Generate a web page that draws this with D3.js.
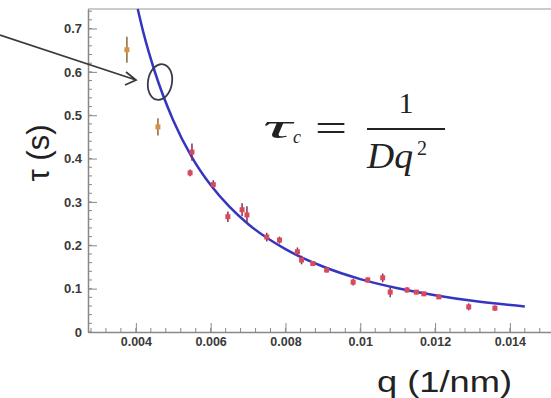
<!DOCTYPE html>
<html>
<head>
<meta charset="utf-8">
<script src="https://cdn.jsdelivr.net/npm/d3@7"></script>
<style>
    body { margin: 0; background: #fff; }
    .tick text { font-family: "Liberation Sans", Arial, sans-serif; font-weight: bold; fill: #3a3a3a; }
</style>
</head>
<body>
<div id="chart"></div>
<script>
// measured points (q in 1/nm, tau in s)
let qPts = [0.00376, 0.00459, 0.00550, 0.00545, 0.00607, 0.00646, 0.00684, 0.00697, 0.00750, 0.00784,
    0.00832, 0.00843, 0.00873, 0.00910, 0.00981, 0.0102, 0.0106, 0.0108, 0.01125, 0.0115, 0.0117, 0.0121, 0.0129, 0.0136];
let tauPts = [0.651, 0.473, 0.415, 0.367, 0.340, 0.266, 0.282, 0.270, 0.219, 0.212,
    0.185, 0.166, 0.158, 0.143, 0.115, 0.120, 0.125, 0.092, 0.097, 0.092, 0.088, 0.081, 0.058, 0.055];
let tauErr = [0.030, 0.020, 0.020, 0.008, 0.010, 0.012, 0.015, 0.020, 0.010, 0.008,
    0.010, 0.010, 0.006, 0.006, 0.008, 0.006, 0.010, 0.012, 0.006, 0.005, 0.005, 0.005, 0.008, 0.006];

// fitted curve tau_c = 1/(D q^2)
let qFit = [0.00405, 0.0042, 0.0045, 0.005, 0.0055, 0.006, 0.0065, 0.007, 0.008, 0.009, 0.010, 0.011, 0.012, 0.013, 0.0144];
let tauFit = [0.745, 0.691, 0.602, 0.488, 0.403, 0.339, 0.289, 0.249, 0.191, 0.151, 0.122, 0.101, 0.085, 0.072, 0.059];

let xTicks = [0.004, 0.006, 0.008, 0.01, 0.012, 0.014];
let yTicks = [0, 0.1, 0.2, 0.3, 0.4, 0.5, 0.6, 0.7];

let width = 551, height = 398;
let plot = {left: 88, right: 551, top: 9, bottom: 332};

let svg = d3.select("#chart").append("svg")
    .attr("width", width)
    .attr("height", height);

let x = d3.scaleLinear().domain([0.00272, 0.0151]).range([plot.left, plot.right]);
let y = d3.scaleLinear().domain([0, 0.745]).range([plot.bottom, plot.top]);

// frame top line
svg.append("line")
    .attr("x1", plot.left).attr("x2", plot.right)
    .attr("y1", plot.top).attr("y2", plot.top)
    .attr("stroke", "#ccc").attr("stroke-width", 2);

// minor ticks
let xMinor = d3.range(0.0028, 0.0151, 0.0004);
let yMinor = d3.range(0, 0.745, 0.02);

svg.append("g")
    .selectAll("line")
    .data(xMinor)
    .enter().append("line")
    .attr("x1", d => x(d)).attr("x2", d => x(d))
    .attr("y1", plot.bottom).attr("y2", plot.bottom - 4)
    .attr("stroke", "#888");

svg.append("g")
    .selectAll("line")
    .data(yMinor)
    .enter().append("line")
    .attr("x1", plot.left).attr("x2", plot.left + 4)
    .attr("y1", d => y(d)).attr("y2", d => y(d))
    .attr("stroke", "#888");

// axes
let xAxis = svg.append("g")
    .attr("transform", "translate(0," + plot.bottom + ")")
    .call(d3.axisBottom(x).tickValues(xTicks).tickSizeInner(-9).tickSizeOuter(0).tickPadding(5)
        .tickFormat(d => d3.format("")(+d.toFixed(3))));
xAxis.select(".domain").attr("stroke", "#888").attr("stroke-width", 1.5);
xAxis.selectAll(".tick line").attr("stroke", "#888");
xAxis.selectAll(".tick text").style("font-size", "12.5px");

let yAxis = svg.append("g")
    .attr("transform", "translate(" + plot.left + ",0)")
    .call(d3.axisLeft(y).tickValues(yTicks).tickSizeInner(-9).tickSizeOuter(0).tickPadding(6)
        .tickFormat(d => d === 0 ? "0" : d3.format(".1f")(d)));
yAxis.select(".domain").attr("stroke", "#888").attr("stroke-width", 1.5);
yAxis.selectAll(".tick line").attr("stroke", "#888");
yAxis.selectAll(".tick text").style("font-size", "13px");

// fit curve
let line = d3.line()
    .x(d => x(d[0]))
    .y(d => y(d[1]))
    .curve(d3.curveMonotoneX);

svg.append("path")
    .datum(qFit.map((q, i) => [q, tauFit[i]]))
    .attr("d", line)
    .attr("fill", "none")
    .attr("stroke", "#3535c0")
    .attr("stroke-width", 2.5);

// data points with error bars
let pts = qPts.map((q, i) => ({q: q, tau: tauPts[i], err: tauErr[i]}));

let g = svg.append("g").selectAll("g")
    .data(pts)
    .enter().append("g");

g.append("line")
    .attr("x1", d => x(d.q)).attr("x2", d => x(d.q))
    .attr("y1", d => y(d.tau - d.err)).attr("y2", d => y(d.tau + d.err))
    .attr("stroke", d => d.q < 0.005 ? "#8a6a3a" : "#7a3060")
    .attr("stroke-width", 1.5);

g.append("rect")
    .attr("x", d => x(d.q) - 2.5)
    .attr("y", d => y(d.tau) - 2.5)
    .attr("width", 5).attr("height", 5)
    .attr("fill", d => d.q < 0.005 ? "#d89040" : "#d84a5a");

// annotation arrow + ellipse
svg.append("path")
    .attr("d", "M0,35 L136,80 M126,72 L136,80 L125,85")
    .attr("fill", "none")
    .attr("stroke", "#3a3a3a")
    .attr("stroke-width", 1.8);

svg.append("ellipse")
    .attr("cx", 160).attr("cy", 82)
    .attr("rx", 12).attr("ry", 18)
    .attr("transform", "rotate(10,160,82)")
    .attr("fill", "none")
    .attr("stroke", "#3a3a4a")
    .attr("stroke-width", 1.8);

// axis titles
svg.append("text")
    .attr("transform", "translate(49,153) rotate(-90)")
    .attr("text-anchor", "middle")
    .style("font-family", "Liberation Sans, Arial, sans-serif")
    .style("font-size", "31px")
    .attr("fill", "#222")
    .text("τ (s)");

svg.append("text")
    .attr("x", 377).attr("y", 392)
    .attr("textLength", 135)
    .attr("lengthAdjust", "spacingAndGlyphs")
    .style("font-family", "Liberation Sans, Arial, sans-serif")
    .style("font-size", "29px")
    .attr("fill", "#222")
    .text("q (1/nm)");

// formula
let f = svg.append("g")
    .style("font-family", "Liberation Serif, Times New Roman, serif")
    .attr("fill", "#222");

f.append("text").attr("x", 263).attr("y", 138)
    .attr("textLength", 29).attr("lengthAdjust", "spacingAndGlyphs")
    .style("font-size", "33px").style("font-style", "italic").text("τ");
f.append("text").attr("x", 293).attr("y", 143)
    .style("font-size", "18px").style("font-style", "italic").text("c");
f.append("text").attr("x", 315).attr("y", 141)
    .attr("textLength", 32).attr("lengthAdjust", "spacingAndGlyphs")
    .style("font-size", "38px").text("=");
f.append("line")
    .attr("x1", 367).attr("x2", 445).attr("y1", 129).attr("y2", 129)
    .attr("stroke", "#222").attr("stroke-width", 2);
f.append("text").attr("x", 406).attr("y", 113).attr("text-anchor", "middle")
    .style("font-size", "30px").text("1");
f.append("text").attr("x", 367).attr("y", 168)
    .attr("textLength", 46).attr("lengthAdjust", "spacingAndGlyphs")
    .style("font-size", "35px").style("font-style", "italic").text("Dq");
f.append("text").attr("x", 417).attr("y", 155)
    .style("font-size", "20px").text("2");
</script>
</body>
</html>
